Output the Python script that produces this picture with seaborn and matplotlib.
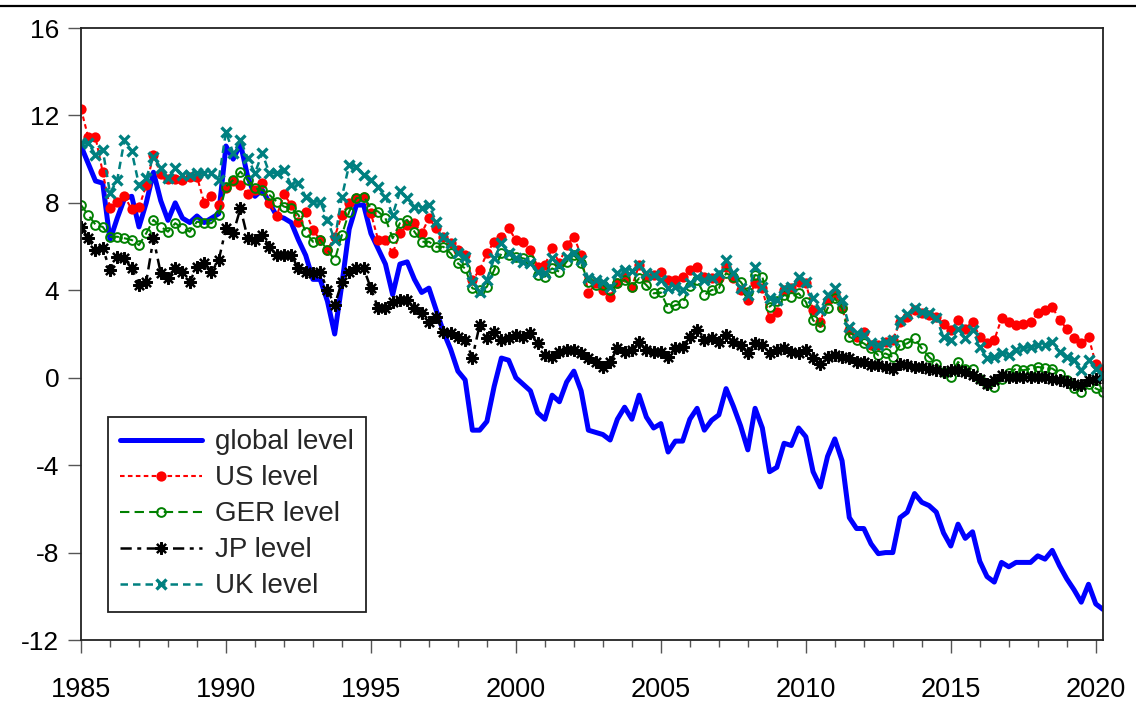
import numpy as np
import pandas as pd
import matplotlib
matplotlib.use("Agg")
import matplotlib.pyplot as plt
from matplotlib.lines import Line2D
from matplotlib.ticker import MultipleLocator
import seaborn as sns

# Quarterly observations, 1985Q1 .. 2020Q2
start_year = 1985
n_obs = 142

global_level = [
    10.6, 9.8, 9.0, 8.9, 6.3, 7.3, 8.2, 8.3, 6.9, 8.0,
    9.4, 8.1, 7.2, 8.0, 7.3, 7.1, 7.4, 7.1, 7.3, 7.5,
    10.6, 10.0, 10.7, 9.2, 8.3, 8.6, 8.0, 7.4, 7.3, 7.1,
    6.3, 5.6, 4.5, 4.5, 3.5, 2.0, 4.3, 6.8, 7.9, 7.9,
    6.6, 5.9, 5.2, 3.8, 5.2, 5.3, 4.5, 3.9, 4.1, 3.1,
    2.1, 1.3, 0.3, -0.1, -2.4, -2.4, -2.0, -0.4, 0.9, 0.8,
    0.0, -0.3, -0.6, -1.6, -1.9, -0.8, -1.1, -0.2, 0.3, -0.6,
    -2.4, -2.5, -2.6, -2.85, -1.9, -1.35, -1.9, -0.8, -1.8, -2.3,
    -2.1, -3.4, -2.9, -2.9, -1.9, -1.4, -2.4, -1.95, -1.7, -0.5,
    -1.3, -2.2, -3.3, -1.4, -2.3, -4.3, -4.1, -3.0, -3.1, -2.3,
    -2.7, -4.3, -5.0, -3.6, -2.8, -3.8, -6.4, -6.9, -6.9, -7.6,
    -8.05, -8.0, -8.0, -6.4, -6.15, -5.3, -5.7, -5.85, -6.15, -7.1,
    -7.7, -6.7, -7.35, -7.05, -8.4, -9.1, -9.35, -8.45, -8.65, -8.45,
    -8.45, -8.45, -8.15, -8.3, -7.9, -8.6, -9.2, -9.7, -10.27, -9.45,
    -10.35, -10.6,
]

us_level = [
    12.3, 11.0, 11.0, 9.4, 7.75, 8.05, 8.3, 7.7, 7.8, 8.8,
    10.2, 9.3, 9.1, 9.1, 9.05, 9.2, 9.2, 8.0, 8.3, 7.9,
    8.7, 9.0, 8.8, 8.4, 8.6, 8.9, 8.0, 7.4, 8.4, 7.9,
    7.14, 7.6, 6.76, 6.3, 5.84, 6.45, 7.45, 7.98, 8.21, 8.29,
    7.52, 6.3, 6.3, 5.69, 6.61, 6.99, 7.07, 6.61, 7.3, 6.84,
    6.45, 6.15, 5.84, 5.61, 4.47, 4.93, 5.69, 6.22, 6.45, 6.84,
    6.3, 6.22, 5.84, 5.08, 5.15, 5.92, 5.23, 6.07, 6.45, 5.61,
    3.86, 4.32, 4.0, 3.7, 4.32, 4.62, 4.16, 5.15, 4.62, 4.7,
    4.85, 4.47, 4.47, 4.6, 4.93, 5.08, 4.62, 4.55, 4.55, 5.08,
    4.55, 4.01, 3.55, 4.32, 4.09, 2.71, 3.02, 4.01, 4.09, 4.39,
    4.32, 3.09, 2.56, 3.55, 3.86, 3.17, 2.18, 1.87, 2.1, 1.49,
    1.49, 1.64, 1.72, 2.56, 2.8, 3.09, 2.94, 2.86, 2.79, 2.45,
    2.18, 2.63, 2.25, 2.56, 1.87, 1.57, 1.72, 2.71, 2.56, 2.41,
    2.48, 2.56, 2.94, 3.09, 3.25, 2.63, 2.25, 1.8, 1.57, 1.87,
    0.65, 0.42,
]

ger_level = [
    7.9, 7.45, 7.0, 6.9, 6.45, 6.45, 6.38, 6.3, 6.07, 6.61,
    7.22, 6.91, 6.68, 7.07, 6.84, 6.68, 7.14, 7.07, 7.07, 7.45,
    8.74, 9.05, 9.43, 9.05, 8.67, 8.59, 8.36, 8.06, 7.83, 7.75,
    7.45, 6.68, 6.22, 6.3, 5.84, 5.38, 6.53, 7.6, 8.21, 8.29,
    7.75, 7.6, 7.3, 6.38, 7.07, 7.22, 6.68, 6.22, 6.22, 5.99,
    5.99, 5.69, 5.23, 5.0, 4.09, 4.01, 4.16, 4.93, 5.69, 5.61,
    5.54, 5.46, 5.38, 4.7, 4.62, 5.0, 4.85, 5.31, 5.61, 5.23,
    4.39, 4.24, 4.24, 4.01, 4.32, 4.47, 4.16, 4.55, 4.24, 3.86,
    3.9, 3.17, 3.32, 3.4, 4.2, 4.47, 3.78, 4.01, 4.09, 4.78,
    4.62, 4.39, 3.93, 4.7, 4.62, 3.25, 3.5, 3.78, 3.7, 3.86,
    3.47, 2.63, 2.33, 3.17, 3.63, 3.17, 1.87, 1.72, 1.57, 1.34,
    1.03, 1.11, 0.95, 1.49, 1.57, 1.8, 1.34, 0.95, 0.65, 0.27,
    0.04, 0.72, 0.42, 0.42, -0.04, -0.3, -0.42, -0.04, 0.2, 0.42,
    0.34, 0.42, 0.49, 0.45, 0.42, 0.19, -0.11, -0.49, -0.65, -0.3,
    -0.49, -0.65,
]

jp_level = [
    6.9, 6.38, 5.84, 5.92, 4.93, 5.54, 5.46, 5.0, 4.24, 4.39,
    6.38, 4.78, 4.55, 5.0, 4.85, 4.39, 5.08, 5.23, 4.85, 5.38,
    6.84, 6.61, 7.75, 6.38, 6.3, 6.53, 5.99, 5.61, 5.61, 5.61,
    5.0, 4.85, 4.78, 4.85, 4.01, 3.32, 4.39, 4.85, 5.0, 5.0,
    4.09, 3.17, 3.17, 3.47, 3.55, 3.55, 3.17, 2.94, 2.56, 2.79,
    2.1, 2.03, 1.87, 1.72, 0.92, 2.41, 1.8, 2.1, 1.72, 1.8,
    1.95, 1.87, 2.03, 1.57, 1.03, 0.95, 1.18, 1.26, 1.26, 1.11,
    0.88, 0.72, 0.49, 0.72, 1.34, 1.18, 1.26, 1.64, 1.26, 1.18,
    1.18, 0.95, 1.34, 1.41, 1.87, 2.18, 1.72, 1.8, 1.64, 1.95,
    1.64, 1.49, 1.11, 1.57, 1.49, 1.11, 1.26, 1.34, 1.18, 1.11,
    1.26, 0.88, 0.65, 0.95, 1.03, 0.95, 0.88, 0.72, 0.72, 0.57,
    0.57, 0.49, 0.42, 0.65, 0.57, 0.49, 0.49, 0.42, 0.34, 0.27,
    0.34, 0.34, 0.27, 0.11, -0.04, -0.27, -0.11, 0.11, 0.04, 0.04,
    0.04, 0.04, 0.04, 0.04, -0.04, -0.11, -0.19, -0.27, -0.34, -0.11,
    -0.04, 0.04,
]

uk_level = [
    10.73, 10.73, 10.2, 10.43, 8.44, 9.05, 10.88, 10.35, 8.82, 9.13,
    10.12, 9.59, 9.13, 9.59, 9.28, 9.28, 9.36, 9.36, 9.36, 9.05,
    11.26, 10.27, 10.88, 10.04, 9.36, 10.27, 9.36, 9.36, 9.51, 8.82,
    8.9, 8.29, 8.06, 8.06, 7.22, 6.3, 8.29, 9.74, 9.66, 9.28,
    9.05, 8.74, 8.29, 7.45, 8.52, 8.21, 7.83, 7.75, 7.9, 7.14,
    6.45, 6.15, 5.69, 5.54, 4.39, 3.93, 4.47, 5.46, 6.15, 5.69,
    5.46, 5.31, 5.23, 4.85, 4.78, 5.46, 5.15, 5.54, 5.69, 5.38,
    4.55, 4.47, 4.39, 4.16, 4.78, 4.93, 4.9, 5.15, 4.78, 4.7,
    4.47, 4.09, 4.16, 4.01, 4.32, 4.62, 4.47, 4.55, 4.78, 5.38,
    4.78, 4.09, 3.78, 5.08, 4.16, 3.63, 3.55, 4.09, 4.16, 4.62,
    4.39, 3.63, 3.09, 3.78, 4.09, 3.55, 2.33, 2.03, 1.95, 1.57,
    1.49, 1.64, 1.72, 2.63, 2.9, 3.17, 3.02, 2.94, 2.71, 1.87,
    1.72, 2.25, 1.8, 2.18, 1.41, 0.88, 0.95, 1.11, 1.03, 1.26,
    1.34, 1.41, 1.49, 1.49, 1.64, 1.18, 0.95, 0.8, 0.34, 0.8,
    0.42, 0.11,
]

series_labels = ["global level", "US level", "GER level", "JP level", "UK level"]
year_ticks = list(range(1985, 2021, 5))
value_ticks = list(range(-12, 17, 4))

period = start_year + np.arange(n_obs) / 4.0
df = pd.DataFrame({
    "period": period,
    "global level": global_level,
    "US level": us_level,
    "GER level": ger_level,
    "JP level": jp_level,
    "UK level": uk_level,
})

sns.set_style("ticks")
plt.rcParams["font.family"] = ["Liberation Sans", "DejaVu Sans"]

fig = plt.figure(figsize=(11.36, 7.15), dpi=100)
ax = fig.add_axes([81 / 1136, 1 - 640 / 715, (1103 - 81) / 1136, (640 - 28) / 715])

styles = {
    "global level": dict(color="#0000FF", linewidth=3.6, linestyle="-"),
    "US level": dict(color="#FF0000", linewidth=1.5, linestyle=(0, (2.2, 1.6)),
                     marker="o", markersize=7.4, markeredgewidth=0,
                     markerfacecolor="#FF0000", markeredgecolor="#FF0000"),
    "GER level": dict(color="#008000", linewidth=1.5, linestyle=(0, (4.5, 2.5)),
                      marker="o", markersize=6.3, markeredgewidth=1.4,
                      markerfacecolor="none", markeredgecolor="#008000"),
    "JP level": dict(color="#000000", linewidth=1.8, linestyle=(0, (4.5, 2.2, 1.6, 2.2)),
                     marker=(8, 2, 0), markersize=9, markeredgewidth=1.6,
                     markeredgecolor="#000000", markerfacecolor="#000000"),
    "UK level": dict(color="#008080", linewidth=1.8, linestyle=(0, (3.0, 2.0)),
                     marker="x", markersize=6.8, markeredgewidth=2.4,
                     markeredgecolor="#008080", markerfacecolor="#008080"),
}

for name in series_labels:
    sns.lineplot(data=df, x="period", y=name, ax=ax, label=name,
                 sort=False, **styles[name])

ax.set_xlim(start_year, start_year + (n_obs - 1) / 4.0)
ax.set_ylim(-12, 16)
ax.set_xticks(year_ticks)
ax.set_xticklabels([str(y) for y in year_ticks])
ax.xaxis.set_minor_locator(MultipleLocator(1))
ax.set_yticks(value_ticks)
ax.set_yticklabels([str(v) for v in value_ticks])
ax.set_xlabel("")
ax.set_ylabel("")

ax.tick_params(axis="y", which="major", direction="out", length=9.5, width=1.0,
               color="#555555", labelsize=19, pad=6, labelcolor="black")
ax.tick_params(axis="x", which="major", direction="out", length=9.5, width=1.0,
               color="#555555", labelsize=19.5, pad=17, labelcolor="black")
ax.tick_params(axis="x", which="minor", direction="out", length=5, width=1.0,
               color="#555555")
ax.tick_params(right=False, top=False)

for spine in ax.spines.values():
    spine.set_visible(True)
    spine.set_color("#222222")
    spine.set_linewidth(1.3)

leg = ax.legend(loc="lower left", bbox_to_anchor=(0.0264, 0.0458),
                borderaxespad=0, fontsize=20, handlelength=2.95,
                handletextpad=0.45, labelspacing=0.36, borderpad=0.45,
                fancybox=False, framealpha=1, edgecolor="#222222")
leg.get_frame().set_linewidth(1.3)

# rule along the top edge of the figure
fig.add_artist(Line2D([0, 1], [1 - 6 / 715, 1 - 6 / 715], transform=fig.transFigure,
                      color="black", linewidth=1.6))

fig.savefig("out.png", dpi=100)
